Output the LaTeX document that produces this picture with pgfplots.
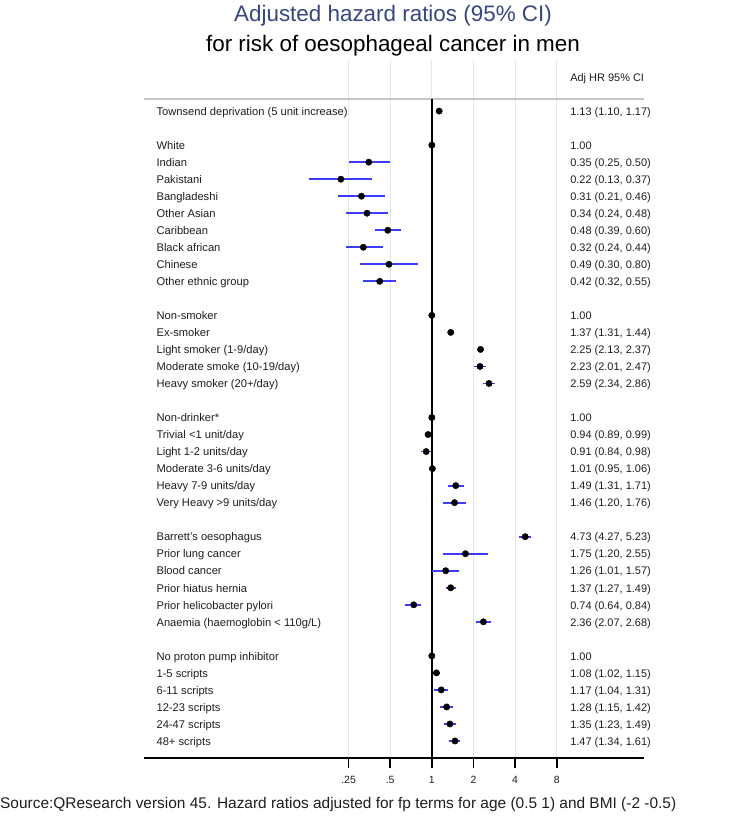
\documentclass[border=0pt]{standalone}
\usepackage{fontspec}
\setmainfont{Liberation Sans}
\usepackage{pgfplots}
\usepackage{pgfplotstable}
\pgfplotsset{compat=1.18}
\definecolor{ciblue}{RGB}{60,60,250}
\definecolor{gridc}{RGB}{222,234,238}
\definecolor{titleblue}{RGB}{55,70,125}
\definecolor{txt}{RGB}{30,30,30}
\pgfplotstableread{
row hr lo hi
1 1.13 1.10 1.17
3 1.00 1.00 1.00
4 0.35 0.25 0.50
5 0.22 0.13 0.37
6 0.31 0.21 0.46
7 0.34 0.24 0.48
8 0.48 0.39 0.60
9 0.32 0.24 0.44
10 0.49 0.30 0.80
11 0.42 0.32 0.55
13 1.00 1.00 1.00
14 1.37 1.31 1.44
15 2.25 2.13 2.37
16 2.23 2.01 2.47
17 2.59 2.34 2.86
19 1.00 1.00 1.00
20 0.94 0.89 0.99
21 0.91 0.84 0.98
22 1.01 0.95 1.06
23 1.49 1.31 1.71
24 1.46 1.20 1.76
26 4.73 4.27 5.23
27 1.75 1.20 2.55
28 1.26 1.01 1.57
29 1.37 1.27 1.49
30 0.74 0.64 0.84
31 2.36 2.07 2.68
33 1.00 1.00 1.00
34 1.08 1.02 1.15
35 1.17 1.04 1.31
36 1.28 1.15 1.42
37 1.35 1.23 1.49
38 1.47 1.34 1.61
}\forest
\newcommand{\lab}[2]{\node[anchor=west,inner sep=0pt,yshift=-1.5bp,text height=8bp,text depth=2.5bp,font=\fontsize{11.2}{13}\selectfont,text=txt] at (axis cs:0.0102,#1) {#2};}
\newcommand{\val}[2]{\node[anchor=west,inner sep=0pt,yshift=-1.5bp,text height=8bp,text depth=2.5bp,font=\fontsize{11}{13}\selectfont,text=txt] at (axis cs:10,#1) {#2};}
\begin{document}
\begin{tikzpicture}
\useasboundingbox (-144bp,-61bp) rectangle (596bp,758bp);
\begin{axis}[
  at={(0,0)}, anchor=south west,
  scale only axis, width=500bp, height=698bp,
  xmode=log, log basis x=2,
  xmin=0.0083, xmax=34.2,
  ymin=-2, ymax=39, y dir=reverse,
  axis x line=bottom, axis y line=none,
  x axis line style={-, line width=1.5bp, black},
  xtick={0.25,0.5,1,2,4,8},
  xticklabels={.25,.5,1,2,4,8},
  minor xtick={},
  tick align=outside,
  major tick length=10bp,
  xtick style={line width=1.8bp, black},
  xmajorgrids, grid style={gridc, line width=0.8bp},
  ytick=\empty,
  xticklabel style={font=\fontsize{10.5}{12}\selectfont, text=txt, yshift=-5bp},
  /pgf/number format/assume math mode=true,
  clip=false,
]
\addplot[gray!45, line width=1.8bp] coordinates {(0.0083,0.29) (34.2,0.29)};
\addplot[black, line width=1.6bp] coordinates {(1,0.29) (1,39)};
\addplot[ciblue, line width=1.8bp, empty line=jump] table[x=x,y=y] {
x y
1.10 1
1.17 1

0.25 4
0.50 4

0.13 5
0.37 5

0.21 6
0.46 6

0.24 7
0.48 7

0.39 8
0.60 8

0.24 9
0.44 9

0.30 10
0.80 10

0.32 11
0.55 11

1.31 14
1.44 14

2.13 15
2.37 15

2.01 16
2.47 16

2.34 17
2.86 17

0.89 20
0.99 20

0.84 21
0.98 21

0.95 22
1.06 22

1.31 23
1.71 23

1.20 24
1.76 24

4.27 26
5.23 26

1.20 27
2.55 27

1.01 28
1.57 28

1.27 29
1.49 29

0.64 30
0.84 30

2.07 31
2.68 31

1.02 34
1.15 34

1.04 35
1.31 35

1.15 36
1.42 36

1.23 37
1.49 37

1.34 38
1.61 38
};
\addplot[only marks, mark=*, mark size=3.2bp, black] table[x=hr,y=row] {\forest};

\val{-1}{Adj HR 95\% CI}
\lab{1}{Townsend deprivation (5 unit increase)}\val{1}{1.13 (1.10, 1.17)}
\lab{3}{White}\val{3}{1.00}
\lab{4}{Indian}\val{4}{0.35 (0.25, 0.50)}
\lab{5}{Pakistani}\val{5}{0.22 (0.13, 0.37)}
\lab{6}{Bangladeshi}\val{6}{0.31 (0.21, 0.46)}
\lab{7}{Other Asian}\val{7}{0.34 (0.24, 0.48)}
\lab{8}{Caribbean}\val{8}{0.48 (0.39, 0.60)}
\lab{9}{Black african}\val{9}{0.32 (0.24, 0.44)}
\lab{10}{Chinese}\val{10}{0.49 (0.30, 0.80)}
\lab{11}{Other ethnic group}\val{11}{0.42 (0.32, 0.55)}
\lab{13}{Non-smoker}\val{13}{1.00}
\lab{14}{Ex-smoker}\val{14}{1.37 (1.31, 1.44)}
\lab{15}{Light smoker (1-9/day)}\val{15}{2.25 (2.13, 2.37)}
\lab{16}{Moderate smoke (10-19/day)}\val{16}{2.23 (2.01, 2.47)}
\lab{17}{Heavy smoker (20+/day)}\val{17}{2.59 (2.34, 2.86)}
\lab{19}{Non-drinker*}\val{19}{1.00}
\lab{20}{Trivial <1 unit/day}\val{20}{0.94 (0.89, 0.99)}
\lab{21}{Light 1-2 units/day}\val{21}{0.91 (0.84, 0.98)}
\lab{22}{Moderate 3-6 units/day}\val{22}{1.01 (0.95, 1.06)}
\lab{23}{Heavy 7-9 units/day}\val{23}{1.49 (1.31, 1.71)}
\lab{24}{Very Heavy >9 units/day}\val{24}{1.46 (1.20, 1.76)}
\lab{26}{Barrett's oesophagus}\val{26}{4.73 (4.27, 5.23)}
\lab{27}{Prior lung cancer}\val{27}{1.75 (1.20, 2.55)}
\lab{28}{Blood cancer}\val{28}{1.26 (1.01, 1.57)}
\lab{29}{Prior hiatus hernia}\val{29}{1.37 (1.27, 1.49)}
\lab{30}{Prior helicobacter pylori}\val{30}{0.74 (0.64, 0.84)}
\lab{31}{Anaemia (haemoglobin < 110g/L)}\val{31}{2.36 (2.07, 2.68)}
\lab{33}{No proton pump inhibitor}\val{33}{1.00}
\lab{34}{1-5 scripts}\val{34}{1.08 (1.02, 1.15)}
\lab{35}{6-11 scripts}\val{35}{1.17 (1.04, 1.31)}
\lab{36}{12-23 scripts}\val{36}{1.28 (1.15, 1.42)}
\lab{37}{24-47 scripts}\val{37}{1.35 (1.23, 1.49)}
\lab{38}{48+ scripts}\val{38}{1.47 (1.34, 1.61)}
\end{axis}
\node[text=titleblue, font=\fontsize{22.5}{26}\selectfont, inner sep=0pt] at (249bp,742bp) {Adjusted hazard ratios (95\% CI)};
\node[text=black, font=\fontsize{22.5}{26}\selectfont, inner sep=0pt] at (249bp,712bp) {for risk of oesophageal cancer in men};
\node[text=txt, font=\fontsize{15.5}{18}\selectfont, inner sep=0pt, anchor=west] at (-144bp,-47bp) {Source:QResearch version 45. Hazard ratios adjusted for fp terms for age (0.5 1) and BMI (-2 -0.5)};
\end{tikzpicture}
\end{document}
